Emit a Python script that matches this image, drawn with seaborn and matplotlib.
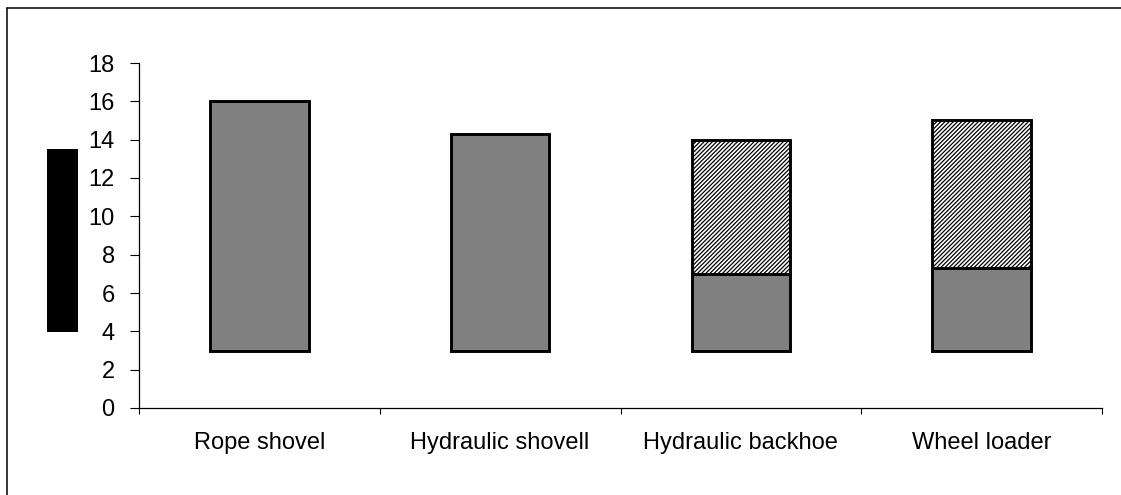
import matplotlib
matplotlib.use("Agg")
import matplotlib.pyplot as plt
from matplotlib.patches import Rectangle
from matplotlib.lines import Line2D
import seaborn as sns
import pandas as pd
import numpy as np

categories = ["Rope shovel", "Hydraulic shovell", "Hydraulic backhoe", "Wheel loader"]
base_values = [3, 3, 3, 3]
solid_top = [16.0, 14.3, 7.0, 7.3]
total_top = [16.0, 14.3, 14.0, 15.0]
y_ticks = [0, 2, 4, 6, 8, 10, 12, 14, 16, 18]

sns.set_theme(style="white")
plt.rcParams['font.family'] = ['Liberation Sans', 'DejaVu Sans']
plt.rcParams['hatch.linewidth'] = 0.9
plt.rcParams['hatch.color'] = 'black'
plt.rcParams['text.color'] = 'black'
plt.rcParams['xtick.color'] = 'black'
plt.rcParams['ytick.color'] = 'black'
plt.rcParams['xtick.labelcolor'] = 'black'
plt.rcParams['ytick.labelcolor'] = 'black'

df = pd.DataFrame({
    "category": categories,
    "solid_height": np.array(solid_top) - np.array(base_values),
    "hatch_height": np.array(total_top) - np.array(solid_top),
})

fig = plt.figure(figsize=(11.21, 4.95), dpi=100)
ax = fig.add_axes([139 / 1121, 1 - 408 / 495, (1102 - 139) / 1121, (408 - 63) / 495])

bar_w = 0.41
sns.barplot(data=df, x="category", y="solid_height", order=categories,
            bottom=base_values, color="#808080", saturation=1, width=bar_w,
            edgecolor="black", linewidth=2.1, ax=ax)
n_before = len(ax.patches)
sns.barplot(data=df, x="category", y="hatch_height", order=categories,
            bottom=solid_top, color="white", saturation=1, width=bar_w,
            edgecolor="black", linewidth=2.1, hatch="////////", ax=ax)
for p in ax.patches[n_before:]:
    if p.get_height() == 0:
        p.set_visible(False)

ax.set_xlim(-0.5, len(categories) - 0.5)
ax.set_ylim(0, 18)
ax.set_yticks(y_ticks)
ax.set_yticklabels([str(v) for v in y_ticks], fontsize=17)
ax.set_xticks(np.arange(-0.5, len(categories)), labels=[""] * (len(categories) + 1))
ax.set_xticks(np.arange(len(categories)), labels=categories, minor=True)
ax.tick_params(axis="x", which="minor", bottom=True, length=0, pad=17, labelsize=17,
               labelcolor="black")
ax.tick_params(axis="x", which="major", bottom=True, length=4, width=0.8,
               direction="out", color="black")
ax.tick_params(axis="y", left=True, length=6.5, width=0.8, direction="out", pad=11,
               color="black", labelcolor="black")
ax.set_xlabel("")
ax.set_ylabel("")
for s in ["top", "right"]:
    ax.spines[s].set_visible(False)
for s in ["left", "bottom"]:
    ax.spines[s].set_color("black")
    ax.spines[s].set_linewidth(0.9)
ax.grid(False)

# redacted y-axis label block
fig.add_artist(Rectangle((47 / 1121, 1 - 332 / 495), 31 / 1121, 183 / 495,
                         transform=fig.transFigure, facecolor="black", edgecolor="none"))
# outer chart frame (left and top edges visible)
fx, fy = 7 / 1121, 1 - 8 / 495
fig.add_artist(Line2D([fx, fx], [0, fy], transform=fig.transFigure, color="black", linewidth=1.1))
fig.add_artist(Line2D([fx, 1], [fy, fy], transform=fig.transFigure, color="black", linewidth=1.1))

fig.savefig("out.png", dpi=100)
